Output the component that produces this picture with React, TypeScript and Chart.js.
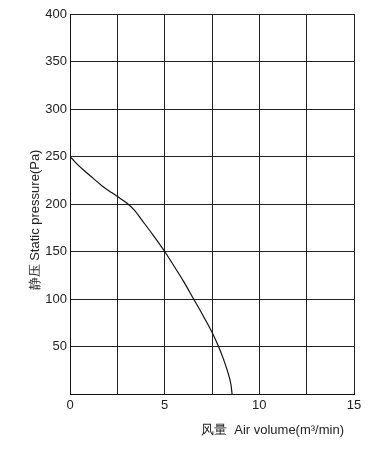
import React, { useEffect, useRef } from "react";
import { Chart, registerables } from "chart.js";

Chart.register(...registerables);

const airVolume = [0, 0.35, 0.7, 1.2, 1.7, 2.2, 2.6, 3.0, 3.4, 3.8, 4.4, 5.0, 5.5, 6.0, 6.5, 7.0, 7.5, 7.8, 8.1, 8.35, 8.5, 8.56];
const staticPressure = [250, 242.5, 236, 227.5, 219, 212, 206.5, 201, 193.5, 183, 167, 150, 134.5, 118.5, 101, 83.5, 65, 52, 37, 22, 10, 0];
const xTitle = "风量  Air volume(m³/min)";
const yTitle = "静压 Static pressure(Pa)";
const xTicksShown = [0, 5, 10, 15];

const FONT = "'Liberation Sans', Arial, sans-serif";

export default function App() {
  const ref = useRef<HTMLCanvasElement | null>(null);
  useEffect(() => {
    if (!ref.current) return;
    const titles = {
      id: "titles",
      afterDraw(chart: any) {
        const ctx = chart.ctx;
        ctx.save();
        ctx.fillStyle = "#222";
        ctx.font = `13px ${FONT}`;
        ctx.textBaseline = "middle";
        ctx.textAlign = "right";
        ctx.fillText(xTitle, 344, 430);
        ctx.translate(35, 220);
        ctx.rotate(-Math.PI / 2);
        ctx.textAlign = "center";
        ctx.fillText(yTitle, 0, 0);
        ctx.restore();
      },
    };
    const chart = new Chart(ref.current, {
      type: "line",
      data: {
        datasets: [
          {
            data: airVolume.map((x, i) => ({ x, y: staticPressure[i] })),
            borderColor: "#111",
            borderWidth: 1.2,
            pointRadius: 0,
            fill: false,
            cubicInterpolationMode: "monotone",
          },
        ],
      },
      options: {
        animation: false,
        responsive: true,
        maintainAspectRatio: false,
        layout: { padding: { left: 0, right: 30, top: 14, bottom: 34 } },
        plugins: { legend: { display: false }, tooltip: { enabled: false } },
        scales: {
          x: {
            type: "linear",
            min: 0,
            max: 15,
            afterFit: (s: any) => {
              s.height = 30;
            },
            ticks: {
              stepSize: 2.5,
              autoSkip: false,
              maxRotation: 0,
              padding: 4,
              color: "#222",
              font: { family: FONT, size: 13 },
              callback: (v: any) => (xTicksShown.includes(Number(v)) ? String(v) : ""),
            },
            grid: { color: "#222", lineWidth: 1, drawTicks: false },
            border: { color: "#111", width: 1 },
          },
          y: {
            type: "linear",
            min: 0,
            max: 400,
            afterFit: (s: any) => {
              s.width = 70;
            },
            ticks: {
              stepSize: 50,
              padding: 3,
              color: "#222",
              font: { family: FONT, size: 13 },
              callback: (v: any) => (Number(v) === 0 ? "" : String(v)),
            },
            grid: { color: "#222", lineWidth: 1, drawTicks: false },
            border: { color: "#111", width: 1 },
          },
        },
      },
      plugins: [titles],
    });
    return () => chart.destroy();
  }, []);
  return (
    <div style={{ position: "fixed", left: 0, top: 0, width: 384, height: 458, background: "#fff" }}>
      <canvas ref={ref} />
    </div>
  );
}
